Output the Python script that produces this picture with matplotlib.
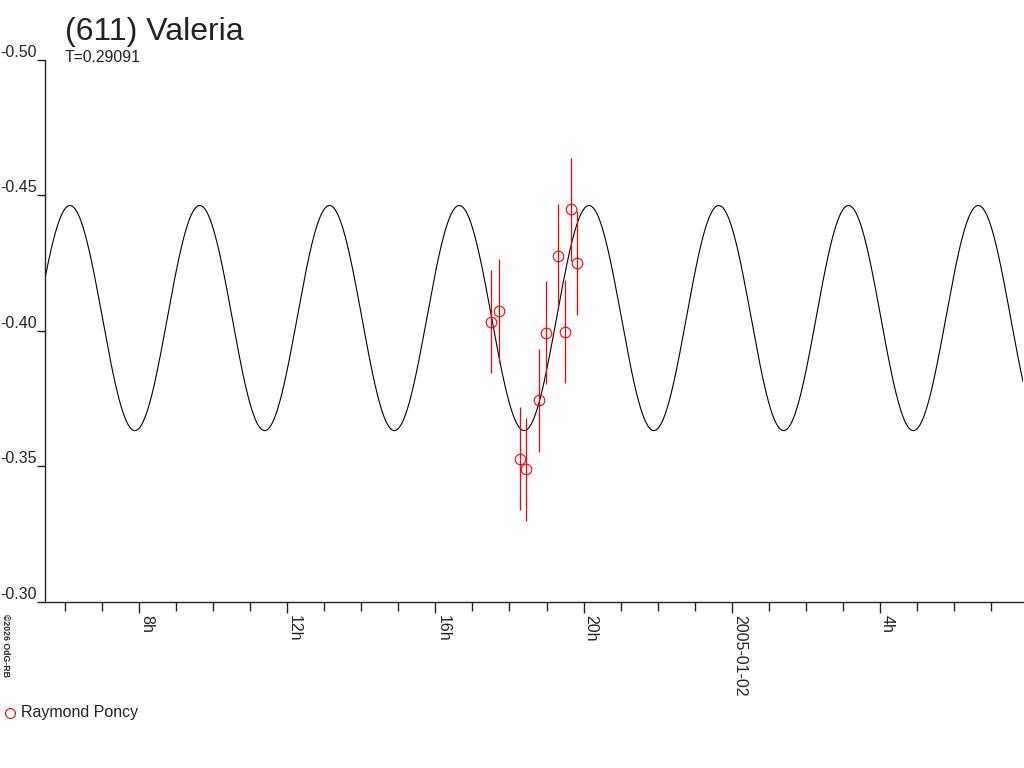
import numpy as np
import matplotlib
matplotlib.use("Agg")
import matplotlib.pyplot as plt
from matplotlib.ticker import MultipleLocator, FixedLocator, FixedFormatter

plt.rcParams['font.family'] = ['Liberation Sans', 'DejaVu Sans']

# ---- data (hours since 2005-01-01 00:00 UT) ----
obs_hours = [17.51, 17.71, 18.28, 18.45, 18.80, 18.99, 19.32, 19.51, 19.67, 19.83]
obs_mag = [-0.4033, -0.4073, -0.3528, -0.3490, -0.3743, -0.3993, -0.4276, -0.3997, -0.4448, -0.4250]
obs_err = [0.019, 0.019, 0.019, 0.019, 0.019, 0.019, 0.019, 0.019, 0.019, 0.019]

# model lightcurve parameters
model_mean = -0.4047
model_amp = 0.0415
model_half_period_h = 3.502
model_peak_h = 6.138

x_range = (5.463, 31.86)
y_ticks = [-0.50, -0.45, -0.40, -0.35, -0.30]
x_major = [8, 12, 16, 20, 24, 28]
x_labels = ['8h', '12h', '16h', '20h', '2005-01-02', '4h']

title = '(611) Valeria'
subtitle = 'T=0.29091'
observer = 'Raymond Poncy'
credit = '\u00a92026 OdG-RB'

# ---- figure ----
W, H = 1024, 768
fig = plt.figure(figsize=(W / 100, H / 100), dpi=100)
ax = fig.add_axes([45 / W, (H - 602) / H, (1023 - 45) / W, (602 - 59.6) / H])

t = np.linspace(x_range[0], x_range[1], 2000)
curve = model_mean - model_amp * np.cos(2 * np.pi * (t - model_peak_h) / model_half_period_h)
ax.plot(t, curve, color='black', lw=0.8, zorder=2)

ax.errorbar(obs_hours, obs_mag, yerr=obs_err, fmt='none', ecolor='#ff0000',
            elinewidth=0.9, capsize=0, zorder=3)
ax.plot(obs_hours, obs_mag, 'o', mfc='none', mec='#ff0000', ms=7.6, mew=0.8, zorder=4)

ax.set_xlim(*x_range)
ax.set_ylim(-0.30, -0.50)

for s in ['top', 'right']:
    ax.spines[s].set_visible(False)
for s in ['left', 'bottom']:
    ax.spines[s].set_linewidth(1.0)
    ax.spines[s].set_color('#222222')

ax.yaxis.set_major_locator(FixedLocator(y_ticks))
ax.yaxis.set_major_formatter(FixedFormatter(['%.2f' % v for v in y_ticks]))
ax.tick_params(axis='y', direction='out', length=6, width=1, pad=0,
               labelsize=11.5, labelcolor='#222222', color='#222222')
for lab in ax.get_yticklabels():
    lab.set_va('bottom')

ax.xaxis.set_major_locator(FixedLocator(x_major))
ax.xaxis.set_major_formatter(FixedFormatter(x_labels))
ax.xaxis.set_minor_locator(MultipleLocator(1))
ax.tick_params(axis='x', which='major', direction='out', length=8, width=1, pad=1.2,
               labelsize=11.5, labelcolor='#222222', color='#222222')
ax.tick_params(axis='x', which='minor', direction='out', length=6.5, width=1, color='#222222')
for lab in ax.get_xticklabels():
    lab.set_rotation(270)
    lab.set_ha('left')
    lab.set_va('top')

fig.text(65 / W, 1 - 32 / H, title, fontsize=23, color='#222222', va='center', ha='left')
fig.text(65 / W, 1 - 57 / H, subtitle, fontsize=11.3, color='#222222', va='center', ha='left')

# legend
fig.lines.append(plt.Line2D([10 / W], [1 - 713 / H], marker='o', mfc='none', mec='#ff0000',
                            ms=7.2, mew=0.8, transform=fig.transFigure))
fig.text(21 / W, 1 - 712 / H, observer, fontsize=11.5, color='#222222', va='center', ha='left')

# credit
fig.text(5 / W, 1 - 614 / H, credit, fontsize=6.3, fontweight='bold', rotation=270,
         ha='center', va='top', color='#222222')

fig.savefig('out.png', dpi=100)
